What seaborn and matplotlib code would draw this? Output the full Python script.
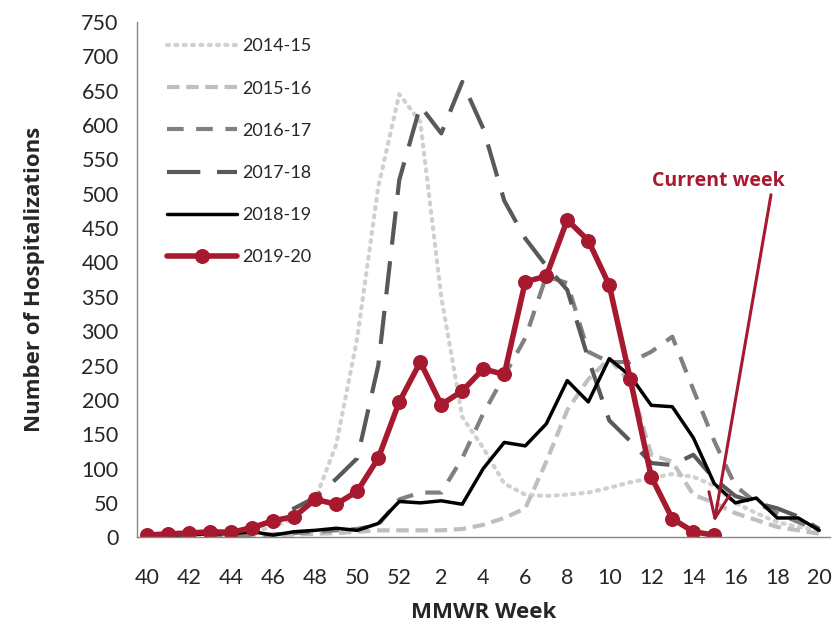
import numpy as np
import pandas as pd
import seaborn as sns
import matplotlib.pyplot as plt

sns.set_style('white')
plt.rcParams['font.family'] = ['Lato', 'DejaVu Sans']

# MMWR weeks 40..52, then 1..20
weeks = list(range(40, 53)) + list(range(1, 21))
tick_labels = [str(w) for w in weeks[::2]]

s2014_15 = [0, 1, 2, 3, 5, 8, 15, 28, 55, 135, 290, 510, 645, 605, 350, 175,
            130, 78, 62, 60, 62, 65, 72, 80, 86, 92, 88, 75, 50, 35, 22, 15, 10]
s2015_16 = [0, 0, 1, 1, 2, 2, 3, 4, 5, 6, 8, 10, 10, 10, 10, 12,
            18, 28, 42, 110, 185, 230, 260, 225, 120, 110, 62, 50, 35, 25, 15, 10, 5]
s2016_17 = [0, 1, 1, 2, 2, 3, 4, 6, 8, 10, 12, 18, 55, 65, 65, 115,
            180, 235, 290, 380, 370, 270, 255, 255, 270, 292, 215, 140, 75, 50, 35, 22, 10]
s2017_18 = [2, 3, 5, 6, 8, 12, 25, 42, 58, 85, 115, 250, 520, 628, 588, 663,
            595, 490, 435, 395, 360, 260, 170, 140, 108, 105, 120, 85, 60, 50, 42, 30, 12]
s2018_19 = [2, 3, 4, 5, 5, 8, 3, 8, 10, 13, 10, 20, 52, 50, 53, 48,
            100, 138, 133, 165, 228, 197, 260, 235, 192, 190, 145, 78, 50, 57, 28, 28, 10]
s2019_20 = [3, 5, 6, 8, 7, 14, 24, 30, 55, 48, 67, 115, 197, 255, 193, 213,
            245, 237, 372, 380, 462, 432, 367, 230, 88, 27, 8, 3]

red = '#a6192e'
bold_font = ['Open Sans', 'DejaVu Sans']
x = np.arange(len(weeks))

fig, ax = plt.subplots(figsize=(8.39, 6.32), dpi=100)
fig.subplots_adjust(left=0.163, right=0.989, top=0.965, bottom=0.150)

sns.lineplot(x=x, y=s2014_15, ax=ax, color='#d0d0d0', lw=3,
             linestyle=(0, (0.5, 1.5)), dash_capstyle='round', label='2014-15')
sns.lineplot(x=x, y=s2015_16, ax=ax, color='#bfbfbf', lw=3,
             linestyle=(0, (3, 1.6)), label='2015-16')
sns.lineplot(x=x, y=s2016_17, ax=ax, color='#808080', lw=3,
             linestyle=(0, (4, 3)), label='2016-17')
sns.lineplot(x=x, y=s2017_18, ax=ax, color='#595959', lw=3,
             linestyle=(0, (8, 4)), label='2017-18')
sns.lineplot(x=x, y=s2018_19, ax=ax, color='black', lw=2.5, label='2018-19')
sns.lineplot(x=x[:len(s2019_20)], y=s2019_20, ax=ax, color=red, lw=4,
             marker='o', markersize=10, markeredgecolor=red, label='2019-20')

# current week annotation
ax.annotate('Current week', xy=(27.0, 22), xytext=(27.2, 518),
            ha='center', va='center', fontsize=14, fontweight='bold',
            family=bold_font, color=red,
            arrowprops=dict(arrowstyle='->, head_length=0.6, head_width=0.25',
                            color=red, lw=2.2, mutation_scale=30,
                            shrinkA=0, shrinkB=0, relpos=(0.9, 0.0)))

ax.set_xlim(-0.5, len(weeks) - 0.5)
ax.set_ylim(0, 750)
ax.set_yticks(range(0, 751, 50))
ax.set_xticks(x[::2])
ax.set_xticklabels(tick_labels)
ax.set_xticks(np.arange(-0.5, len(weeks), 1), minor=True)
ax.tick_params(axis='x', which='major', length=0, labelsize=15.5, pad=22)
ax.tick_params(axis='x', which='minor', length=7, color='#868686', width=1, direction='out')
ax.tick_params(axis='y', length=7, color='#868686', width=1, direction='out', labelsize=15.5, pad=6)

for side in ['top', 'right']:
    ax.spines[side].set_visible(False)
for side in ['left', 'bottom']:
    ax.spines[side].set_color('#868686')
    ax.spines[side].set_linewidth(1)

ax.set_xlabel('MMWR Week', fontsize=16, fontweight='bold', family=bold_font, labelpad=10)
ax.set_ylabel('Number of Hospitalizations', fontsize=16, fontweight='bold',
              family=bold_font, labelpad=26)

ax.legend(loc='upper left', bbox_to_anchor=(0.02, 1.0), frameon=False,
          fontsize=13, handlelength=3.9, labelspacing=1.45, handletextpad=0.3)

plt.savefig('out.png', dpi=100)
plt.close()
